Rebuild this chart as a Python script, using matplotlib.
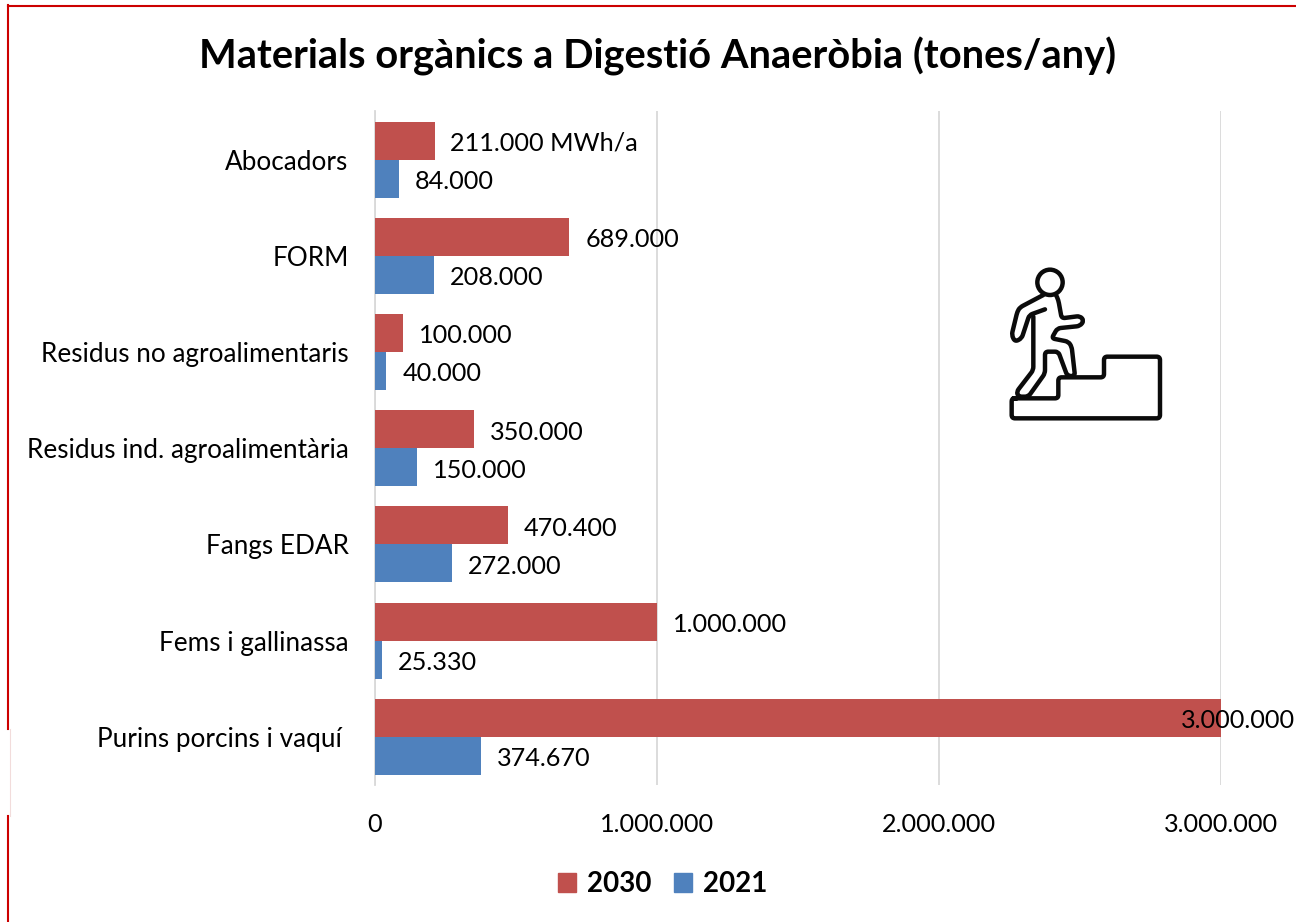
import matplotlib
matplotlib.use("Agg")
import matplotlib.pyplot as plt
from matplotlib.lines import Line2D
from matplotlib.patches import Circle, Patch, PathPatch
from matplotlib.path import Path
from matplotlib.ticker import FuncFormatter

plt.rcParams['font.family'] = ['Lato', 'DejaVu Sans']

title = "Materials orgànics a Digestió Anaeròbia (tones/any)"
categories = ["Abocadors", "FORM", "Residus no agroalimentaris",
              "Residus ind. agroalimentària", "Fangs EDAR",
              "Fems i gallinassa", "Purins porcins i vaquí "]
values_2030 = [211000, 689000, 100000, 350000, 470400, 1000000, 3000000]
values_2021 = [84000, 208000, 40000, 150000, 272000, 25330, 374670]
labels_2030 = ["211.000 MWh/a", "689.000", "100.000", "350.000", "470.400", "1.000.000", "3.000.000"]
labels_2021 = ["84.000", "208.000", "40.000", "150.000", "272.000", "25.330", "374.670"]
xticks = [0, 1000000, 2000000, 3000000]

W, H = 1296, 922
RED, BLUE = "#C0504D", "#4F81BD"
fs = 18.2

fig = plt.figure(figsize=(W / 100, H / 100), dpi=100, facecolor="white")
L, R, T, B = 375, 1221, 111.5, 785
ax = fig.add_axes([L / W, 1 - B / H, (R - L) / W, (B - T) / H])

y = list(range(len(categories)))
bh = 0.395
ax.barh([i - bh / 2 for i in y], values_2030, bh, color=RED, zorder=3, label="2030")
ax.barh([i + bh / 2 for i in y], values_2021, bh, color=BLUE, zorder=3, label="2021")
ax.set_xlim(0, 3000000)
ax.set_ylim(len(categories) - 0.5, -0.5)
ax.set_yticks(y, categories)
ax.set_xticks(xticks)
ax.xaxis.set_major_formatter(FuncFormatter(lambda v, _: f"{int(v):,}".replace(",", ".")))
ax.tick_params(axis="x", length=0, labelsize=fs, colors="black", pad=20)
ax.tick_params(axis="y", length=0, labelsize=18.8, colors="black", pad=19)
ax.grid(axis="x", color="#D9D9D9", lw=1.3, zorder=0)
ax.set_axisbelow(True)
for s in ("top", "right", "bottom"):
    ax.spines[s].set_visible(False)
ax.spines["left"].set_color("#D9D9D9")
ax.spines["left"].set_linewidth(1.3)

for i in y:
    inside = values_2030[i] >= xticks[-1]
    ax.annotate(labels_2030[i], (values_2030[i], i - bh / 2),
                xytext=(53 if inside else 11.5, -2), textcoords="offset points",
                va="center", ha="right" if inside else "left",
                fontsize=fs, zorder=5, annotation_clip=False)
    ax.annotate(labels_2021[i], (values_2021[i], i + bh / 2), xytext=(11.5, -2),
                textcoords="offset points", va="center", ha="left",
                fontsize=fs, zorder=5, annotation_clip=False)

fig.text(658 / W, 1 - 56 / H, title, ha="center", va="center",
         fontsize=28.7, fontweight="bold", color="black")

handles = [Patch(color=RED, label="2030"), Patch(color=BLUE, label="2021")]
fig.legend(handles=handles, loc="center", bbox_to_anchor=(663 / W, 1 - 884 / H), ncol=2,
           frameon=False, prop={"size": 20, "weight": "bold"},
           handlelength=0.65, handleheight=0.65, handletextpad=0.4, columnspacing=0.8)

# overlay in pixel coordinates: frame and icon
ov = fig.add_axes([0, 0, 1, 1], facecolor="none")
ov.set_xlim(0, W)
ov.set_ylim(H, 0)
ov.axis("off")
frame = "#CC0000"
ov.add_line(Line2D([8, W], [6, 6], color=frame, lw=1.5))
ov.add_line(Line2D([8, 8], [5.5, 729], color=frame, lw=1.5))
ov.add_line(Line2D([8, 8], [816, H], color=frame, lw=1.5))
ov.add_line(Line2D([9.5, 9.5], [729, 816], color="#F2DCDB", lw=0.8))


def rounded(pts, r=10):
    """Open polyline (reference zoom coords) with rounded corners, in figure pixels."""
    P = [(980 + a / 3, 250 + b / 3) for a, b in pts]
    r = r / 3
    verts, codes = [P[0]], [Path.MOVETO]
    for prev, cur, nxt in zip(P, P[1:], P[2:]):
        def toward(a, b):
            d = ((b[0] - a[0]) ** 2 + (b[1] - a[1]) ** 2) ** 0.5
            t = min(r, d / 2) / d
            return (a[0] + (b[0] - a[0]) * t, a[1] + (b[1] - a[1]) * t)
        verts += [toward(cur, prev), cur, toward(cur, nxt)]
        codes += [Path.LINETO, Path.CURVE3, Path.CURVE3]
    verts.append(P[-1])
    codes.append(Path.LINETO)
    return Path(verts, codes)


body = [(190, 135), (120, 172), (112, 185), (95, 255), (105, 275), (125, 265), (148, 195),
        (195, 178)]
body2 = [(160, 200), (160, 360), (110, 425), (115, 440), (145, 440), (195, 370), (195, 305),
         (235, 305), (262, 378), (285, 378), (275, 290), (265, 275), (215, 265), (232, 235),
         (300, 228), (312, 212), (300, 198), (245, 205), (235, 150), (228, 135)]
steps = [(100, 445), (235, 445), (235, 382), (372, 382), (372, 320), (540, 320), (540, 505),
         (95, 505), (95, 445), (110, 445)]
for path in (body, body2, steps):
    ov.add_patch(PathPatch(rounded(path), fill=False, ec="#0B0B0B", lw=3.2,
                           joinstyle="round", capstyle="round"))
ov.add_patch(Circle((980 + 210 / 3, 250 + 97 / 3), 38 / 3, fill=False, ec="#0B0B0B", lw=3.2))

fig.savefig("out.png", dpi=100)
